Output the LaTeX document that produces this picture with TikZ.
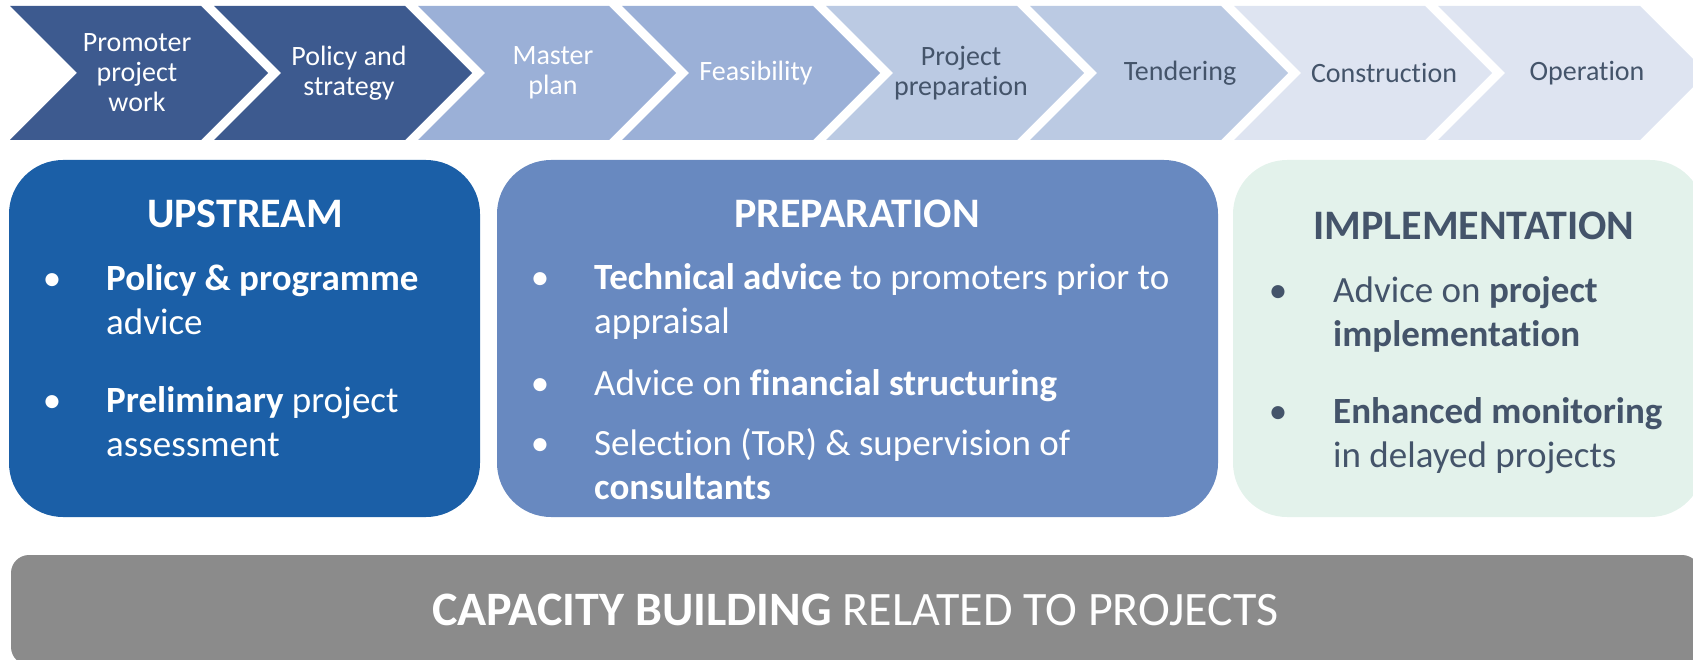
\documentclass[tikz,border=0pt]{standalone}
\usepackage{fontspec}
\setmainfont{Carlito}[RawFeature={-liga,-clig,-calt,-dlig}]
\usepackage{xcolor}
\definecolor{chevDark}{HTML}{3D5A8F}
\definecolor{chevMid}{HTML}{9BB0D7}
\definecolor{chevLight}{HTML}{BBCAE3}
\definecolor{chevPale}{HTML}{DEE4F1}
\definecolor{txtGray}{HTML}{44546A}
\definecolor{upBlue}{HTML}{1B5FA7}
\definecolor{prepBlue}{HTML}{6889C0}
\definecolor{implMint}{HTML}{E3F2EB}
\definecolor{capGray}{HTML}{8B8B8B}
\usepackage{tikz}

\begin{document}
\begin{tikzpicture}[x=1pt, y=-1pt,
                chevron/.style={align=center, font=\fontsize{28}{30}\selectfont, inner sep=0pt},
                bigbox/.style={rectangle, rounded corners=54pt, minimum width=471pt, minimum height=357pt, inner sep=0pt},
                heading/.style={anchor=base, font=\fontsize{42}{50}\selectfont\bfseries, inner sep=0pt},
                bulletmark/.style={anchor=base, font=\fontsize{37}{44}\selectfont, inner sep=0pt},
                itemtext/.style={anchor=base west, align=left, font=\fontsize{37}{44}\selectfont, inner sep=0pt},
                bar/.style={rectangle, rounded corners=18pt, fill=capGray, text=white, font=\fontsize{48}{56}\selectfont}
            ]

            \useasboundingbox (0,0) rectangle (1693,660);
            \clip (0,0) rectangle (1693,660);

            % project stages
            \fill[chevDark] (10,6) -- (201,6) -- (268,73) -- (201,140) -- (10,140) -- (77,73) -- cycle;
            \fill[chevDark] (214,6) -- (405,6) -- (472,73) -- (405,140) -- (214,140) -- (281,73) -- cycle;
            \fill[chevMid] (418,6) -- (609,6) -- (676,73) -- (609,140) -- (418,140) -- (485,73) -- cycle;
            \fill[chevMid] (622,6) -- (813,6) -- (880,73) -- (813,140) -- (622,140) -- (689,73) -- cycle;
            \fill[chevLight] (826,6) -- (1017,6) -- (1084,73) -- (1017,140) -- (826,140) -- (893,73) -- cycle;
            \fill[chevLight] (1030,6) -- (1221,6) -- (1288,73) -- (1221,140) -- (1030,140) -- (1097,73) -- cycle;
            \fill[chevPale] (1234,6) -- (1425,6) -- (1492,73) -- (1425,140) -- (1234,140) -- (1301,73) -- cycle;
            \fill[chevPale] (1438,6) -- (1640,6) -- (1707,73) -- (1640,140) -- (1438,140) -- (1505,73) -- cycle;

            \node (promoter) [chevron, text=white] at (137,73) {Promoter\\project\\work};
            \node (policy) [chevron, text=white] at (349,73) {Policy and\\strategy};
            \node (master) [chevron, text=white] at (553,73) {Master\\plan};
            \node (feasibility) [chevron, text=white] at (756,73) {Feasibility};
            \node (projprep) [chevron, text=txtGray] at (961,73) {Project\\preparation};
            \node (tendering) [chevron, text=txtGray] at (1180,73) {Tendering};
            \node (construction) [chevron, text=txtGray] at (1384,73) {Construction};
            \node (operation) [chevron, text=txtGray] at (1587,73) {Operation};

            % advisory boxes
            \node (upstream) [bigbox, fill=upBlue] at (244.5,338.5) {};
            \node (preparation) [bigbox, fill=prepBlue, minimum width=721pt] at (857.5,338.5) {};
            \node (implementation) [bigbox, fill=implMint] at (1468.5,338.5) {};

            % multi-line items sit on the baseline of their last line
            \node (upHead) [heading, text=white] at (245,228) {UPSTREAM};
            \node (upDotA) [bulletmark, text=white] at (52,290) {\textbullet};
            \node (upItemA) [itemtext, text=white] at (106,334) {\textbf{Policy \& programme}\\advice};
            \node (upDotB) [bulletmark, text=white] at (52,412) {\textbullet};
            \node (upItemB) [itemtext, text=white] at (106,456) {\textbf{Preliminary} project\\assessment};

            \node (prepHead) [heading, text=white] at (857,228) {PREPARATION};
            \node (prepDotA) [bulletmark, text=white] at (540,289) {\textbullet};
            \node (prepItemA) [itemtext, text=white] at (594,333) {\textbf{Technical advice} to promoters prior to\\appraisal};
            \node (prepDotB) [bulletmark, text=white] at (540,395) {\textbullet};
            \node (prepItemB) [itemtext, text=white] at (594,395) {Advice on \textbf{financial structuring}};
            \node (prepDotC) [bulletmark, text=white] at (540,455) {\textbullet};
            \node (prepItemC) [itemtext, text=white] at (594,499) {Selection (ToR) \& supervision of\\\textbf{consultants}};

            \node (implHead) [heading, text=txtGray] at (1474,240) {IMPLEMENTATION};
            \node (implDotA) [bulletmark, text=txtGray] at (1278,302) {\textbullet};
            \node (implItemA) [itemtext, text=txtGray] at (1333,346) {Advice on \textbf{project}\\\textbf{implementation}};
            \node (implDotB) [bulletmark, text=txtGray] at (1278,423) {\textbullet};
            \node (implItemB) [itemtext, text=txtGray] at (1333,467) {\textbf{Enhanced monitoring}\\in delayed projects};

            % capacity building
            \node (capacity) [bar, minimum width=1689pt, minimum height=110pt] at (855.5,610) {\textbf{CAPACITY BUILDING} RELATED TO PROJECTS};
        \end{tikzpicture}
\end{document}
